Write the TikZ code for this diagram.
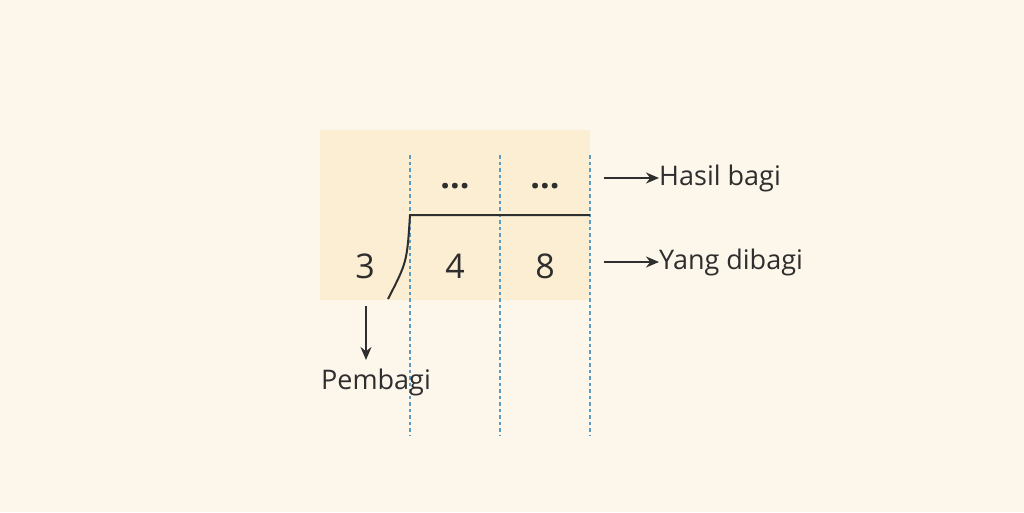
\documentclass[tikz,border=0pt]{standalone}
\usepackage{fontspec}
\setmainfont{Open Sans}
\usetikzlibrary{arrows.meta}
\definecolor{bg}{HTML}{FDF6EB}
\definecolor{cell}{HTML}{FCEED2}
\definecolor{ink}{HTML}{2E2E2E}
\definecolor{guide}{HTML}{5A9CC4}
\tikzset{
  digit/.style={text=ink, font=\fontsize{34}{34}\selectfont, inner sep=0pt},
  label/.style={text=ink, font=\fontsize{27}{27}\selectfont, inner sep=0pt, anchor=west},
  guideline/.style={draw=guide, line width=1.4pt, dash pattern=on 3.5pt off 3pt},
  pointer/.style={draw=ink, line width=2pt, -{Stealth[length=13pt,width=11pt]}},
}
\begin{document}
\begin{tikzpicture}[x=1pt,y=-1pt]
\fill[bg] (0,0) rectangle (1024,512);
\useasboundingbox (0,0) rectangle (1024,512);
\fill[cell] (320,130) rectangle (590,300);
% guides
\coordinate (g1t) at (410,155); \coordinate (g1b) at (410,435);
\coordinate (g2t) at (500,155); \coordinate (g2b) at (500,435);
\coordinate (g3t) at (590,155); \coordinate (g3b) at (590,435);
\draw[guideline] (g1t) -- (g1b);
\draw[guideline] (g2t) -- (g2b);
\draw[guideline] (g3t) -- (g3b);
% division bracket
\coordinate (bTop) at (410,215);
\coordinate (bEnd) at (590,215);
\coordinate (bBot) at (388,299);
\draw[ink, line width=2pt] (bEnd) -- (bTop) .. controls (407,262) .. (bBot);
% numbers
\node[digit] (q1) at (455,186) {\textbf{...}};
\node[digit] (q2) at (545,186) {\textbf{...}};
\node[digit] (d) at (365,266) {3};
\node[digit] (n1) at (455,266) {4};
\node[digit] (n2) at (545,266) {8};
% labels
\coordinate (a1s) at (604,178);
\node[label] (hb) at (659,178) {Hasil bagi};
\draw[pointer] (a1s) -- (hb.west);
\coordinate (a2s) at (604,262);
\node[label] (yd) at (659,262) {Yang dibagi};
\draw[pointer] (a2s) -- (yd.west);
\coordinate (a3s) at (366,306);
\node[label, anchor=center] (pb) at (376,382) {Pembagi};
\coordinate (a3e) at (366,360);
\draw[pointer] (a3s) -- (a3e);
\end{tikzpicture}
\end{document}
